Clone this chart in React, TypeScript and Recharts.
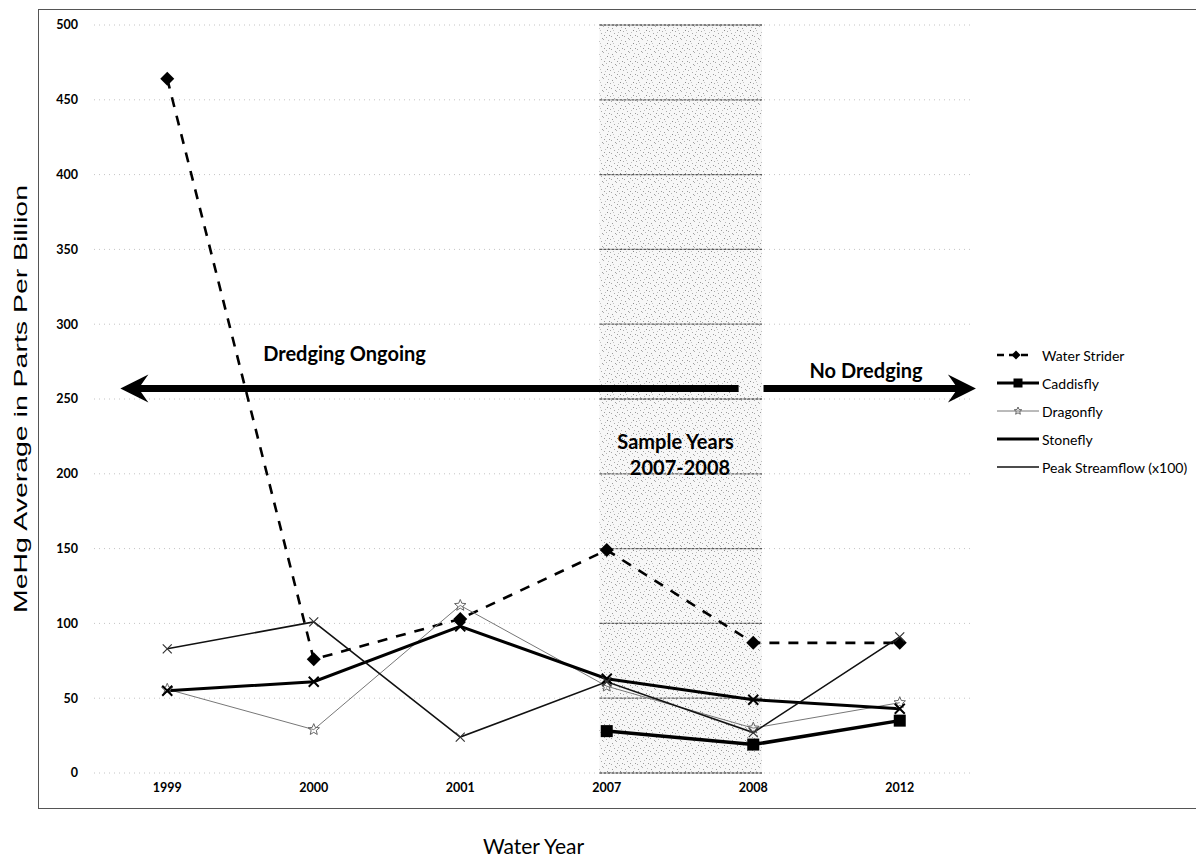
import React from 'react';
import { LineChart, Line, XAxis, YAxis, CartesianGrid, ReferenceArea, ReferenceLine, ReferenceDot } from 'recharts';

const years = ['1999', '2000', '2001', '2007', '2008', '2012'];
const waterStrider = [464, 76, 103, 149, 87, 87];
const caddisfly = [null, null, null, 28, 19, 35];
const dragonfly = [56, 29, 112, 58, 30, 47];
const stonefly = [55, 61, 98, 63, 49, 43];
const peakStreamflow = [83, 101, 24, 61, 27, 91];
const yTicks = [0, 50, 100, 150, 200, 250, 300, 350, 400, 450, 500];

// x runs 0..6, one unit per year band; year i sits at the band centre i + 0.5
const bandTicks = years.map((_, i) => i + 0.5);
const sampleYears = [3.45, 4.56];
const arrowValue = 257;
const dredgingArrow = [0.18, 4.4];
const noDredgingArrow = [4.57, 6.02];

const data = years.map((year, i) => ({
  year,
  pos: bandTicks[i],
  waterStrider: waterStrider[i],
  caddisfly: caddisfly[i],
  dragonfly: dragonfly[i],
  stonefly: stonefly[i],
  peakStreamflow: peakStreamflow[i],
}));

const FONT = 'Lato, "Open Sans", sans-serif';

type M = { cx: number; cy: number; s?: number };

const Diamond = ({ cx, cy, s = 7 }: M) => (
  <polygon points={`${cx},${cy - s} ${cx + s},${cy} ${cx},${cy + s} ${cx - s},${cy}`} fill="#000" />
);
const Square = ({ cx, cy, s = 6 }: M) => (
  <rect x={cx - s} y={cy - s} width={2 * s} height={2 * s} fill="#000" />
);
const Star = ({ cx, cy, s = 6 }: M) => {
  const pts: string[] = [];
  for (let k = 0; k < 10; k++) {
    const r = k % 2 ? s * 0.45 : s;
    const a = -Math.PI / 2 + (k * Math.PI) / 5;
    pts.push(`${cx + r * Math.cos(a)},${cy + r * Math.sin(a)}`);
  }
  return <polygon points={pts.join(' ')} fill="none" stroke="#666" strokeWidth={1} />;
};
const BoldCross = ({ cx, cy, s = 5 }: M) => (
  <path d={`M${cx - s},${cy - s}L${cx + s},${cy + s}M${cx - s},${cy + s}L${cx + s},${cy - s}`} stroke="#000" strokeWidth={2} />
);
const ThinCross = ({ cx, cy, s = 4.5 }: M) => (
  <path d={`M${cx - s},${cy - s}L${cx + s},${cy + s}M${cx - s},${cy + s}L${cx + s},${cy - s}`} stroke="#333" strokeWidth={1.2} />
);

const series = [
  { key: 'waterStrider', name: 'Water Strider', stroke: '#000', width: 2.6, dash: '10 9', marker: Diamond, legendDash: '7 5' },
  { key: 'caddisfly', name: 'Caddisfly', stroke: '#000', width: 3.5, dash: undefined, marker: Square, legendDash: undefined },
  { key: 'dragonfly', name: 'Dragonfly', stroke: '#777', width: 1, dash: undefined, marker: Star, legendDash: undefined },
  { key: 'stonefly', name: 'Stonefly', stroke: '#000', width: 3, dash: undefined, marker: BoldCross, legendDash: undefined },
  { key: 'peakStreamflow', name: 'Peak Streamflow (x100)', stroke: '#111', width: 1.6, dash: undefined, marker: ThinCross, legendDash: undefined },
];

const dotOf = (Shape: any) => (p: any) =>
  p.cx == null || p.cy == null ? <g key={p.index} /> : <Shape key={p.index} cx={p.cx} cy={p.cy} />;

const arrowShape = (headAtStart: boolean) => (p: any) => {
  const y = p.y1;
  const left = Math.min(p.x1, p.x2);
  const right = Math.max(p.x1, p.x2);
  const L = 28;
  const h = 14;
  if (headAtStart) {
    return (
      <g>
        <line x1={left + L * 0.6} y1={y} x2={right} y2={y} stroke="#000" strokeWidth={7} />
        <polygon points={`${left},${y} ${left + L},${y - h} ${left + L * 0.65},${y} ${left + L},${y + h}`} fill="#000" />
      </g>
    );
  }
  return (
    <g>
      <line x1={left} y1={y} x2={right - L * 0.6} y2={y} stroke="#000" strokeWidth={7} />
      <polygon points={`${right},${y} ${right - L},${y - h} ${right - L * 0.65},${y} ${right - L},${y + h}`} fill="#000" />
    </g>
  );
};

const YTitle = (props: any) => {
  const vb = props.viewBox || {};
  const cx = vb.x - 14;
  const cy = vb.y + vb.height / 2;
  return (
    <text
      x={cx}
      y={cy}
      transform={`rotate(-90 ${cx} ${cy})`}
      textAnchor="middle"
      dominantBaseline="central"
      fontFamily="'Liberation Sans Narrow', 'Liberation Sans', Arial, sans-serif"
      fontSize={19}
      textLength={428}
      lengthAdjust="spacingAndGlyphs"
      fill="#000"
    >
      MeHg Average in Parts Per Billion
    </text>
  );
};

const XTitle = (props: any) => {
  const vb = props.viewBox || {};
  return (
    <text x={vb.x + vb.width / 2} y={vb.y + vb.height + 51} textAnchor="middle" fontFamily={FONT} fontSize={21} fill="#000">
      Water Year
    </text>
  );
};

const stipple = [
  [1, 2, '#9a9a9a'], [5, 0, '#b0b0b0'], [9, 4, '#8a8a8a'], [3, 7, '#aaa'], [11, 9, '#999'],
  [7, 6, '#c0c0c0'], [0, 10, '#a8a8a8'], [10, 1, '#bbb'], [6, 9, '#9c9c9c'], [2, 4, '#c5c5c5'],
  [12, 5, '#aaa'], [8, 11, '#b5b5b5'], [4, 12, '#a0a0a0'],
];

const annoText = { fill: '#000', fontFamily: FONT, fontWeight: 700, fontSize: 20 };
const tickStyle = { fill: '#000', fontFamily: FONT, fontWeight: 700, fontSize: 12.5 };

const LegendIcon = ({ s }: { s: any }) => {
  const Mk = s.marker;
  return (
    <svg width={42} height={16} style={{ display: 'block' }}>
      <line x1={0} y1={8} x2={s.key === 'waterStrider' ? 32 : 42} y2={8} stroke={s.stroke} strokeWidth={Math.min(s.width, 3)} strokeDasharray={s.legendDash} />
      {s.key === 'waterStrider' && <Mk cx={19} cy={8} s={4.5} />}
      {s.key === 'caddisfly' && <Mk cx={21} cy={8} s={4.5} />}
      {s.key === 'dragonfly' && <Mk cx={21} cy={8} s={4} />}
    </svg>
  );
};

export default function App() {
  return (
    <div style={{ position: 'absolute', left: 0, top: 0, width: 1196, height: 863, background: '#fff', overflow: 'hidden' }}>
      <div style={{ position: 'absolute', left: 38, top: 9, width: 1200, height: 798, border: '1px solid #555' }} />
      <LineChart width={1196} height={863} data={data} margin={{ top: 25, right: 223, bottom: 60, left: 34 }}>
        <defs>
          <pattern id="stipple" width={13} height={13} patternUnits="userSpaceOnUse">
            <rect width={13} height={13} fill="#f7f7f7" />
            {stipple.map(([x, y, c], i) => (
              <rect key={i} x={x as number} y={y as number} width={1} height={1} fill={c as string} />
            ))}
          </pattern>
        </defs>
        <CartesianGrid vertical={false} stroke="#c4c4c4" strokeDasharray="1 4" />
        <XAxis
          dataKey="pos"
          type="number"
          domain={[0, 6]}
          allowDataOverflow
          ticks={bandTicks}
          interval={0}
          tickFormatter={(v: number) => years[Math.round(v - 0.5)]}
          axisLine={false}
          tickLine={false}
          tickSize={0}
          tickMargin={10}
          height={30}
          tick={tickStyle}
          label={<XTitle />}
        />
        <YAxis domain={[0, 500]} ticks={yTicks} interval={0} axisLine={false} tickLine={false} tickSize={0} tickMargin={16} width={60} tick={tickStyle} label={<YTitle />} />

        <ReferenceArea x1={sampleYears[0]} x2={sampleYears[1]} y1={0} y2={500} fill="url(#stipple)" fillOpacity={1} stroke="none" />
        {yTicks.map((v) => (
          <ReferenceLine
            key={`g${v}`}
            segment={[{ x: sampleYears[0], y: v }, { x: sampleYears[1], y: v }]}
            stroke="#5a5a5a"
            strokeWidth={1.3}
            strokeDasharray="3 1"
          />
        ))}
        <ReferenceLine
          ifOverflow="visible"
          segment={[{ x: dredgingArrow[0], y: arrowValue }, { x: dredgingArrow[1], y: arrowValue }]}
          shape={arrowShape(true)}
        />
        <ReferenceLine
          ifOverflow="visible"
          segment={[{ x: noDredgingArrow[0], y: arrowValue }, { x: noDredgingArrow[1], y: arrowValue }]}
          shape={arrowShape(false)}
        />

        {series.map((s) => (
          <Line
            key={s.key}
            dataKey={s.key}
            name={s.name}
            type="linear"
            stroke={s.stroke}
            strokeWidth={s.width}
            strokeDasharray={s.dash}
            dot={dotOf(s.marker)}
            activeDot={false}
            isAnimationActive={false}
          />
        ))}

        <ReferenceDot x={1.71} y={280} r={0} ifOverflow="visible" label={{ value: 'Dredging Ongoing', position: 'center', ...annoText }} />
        <ReferenceDot x={5.27} y={269} r={0} ifOverflow="visible" label={{ value: 'No Dredging', position: 'center', ...annoText }} />
        <ReferenceDot x={3.97} y={221} r={0} ifOverflow="visible" label={{ value: 'Sample Years', position: 'center', ...annoText }} />
        <ReferenceDot x={4.0} y={204} r={0} ifOverflow="visible" label={{ value: '2007-2008', position: 'center', ...annoText }} />
      </LineChart>

      <div style={{ position: 'absolute', left: 997, top: 341, fontFamily: FONT, fontSize: 14, color: '#000' }}>
        {series.map((s) => (
          <div key={s.key} style={{ display: 'flex', alignItems: 'center', height: 28 }}>
            <LegendIcon s={s} />
            <span style={{ marginLeft: 3, whiteSpace: 'nowrap' }}>{s.name}</span>
          </div>
        ))}
      </div>
    </div>
  );
}
